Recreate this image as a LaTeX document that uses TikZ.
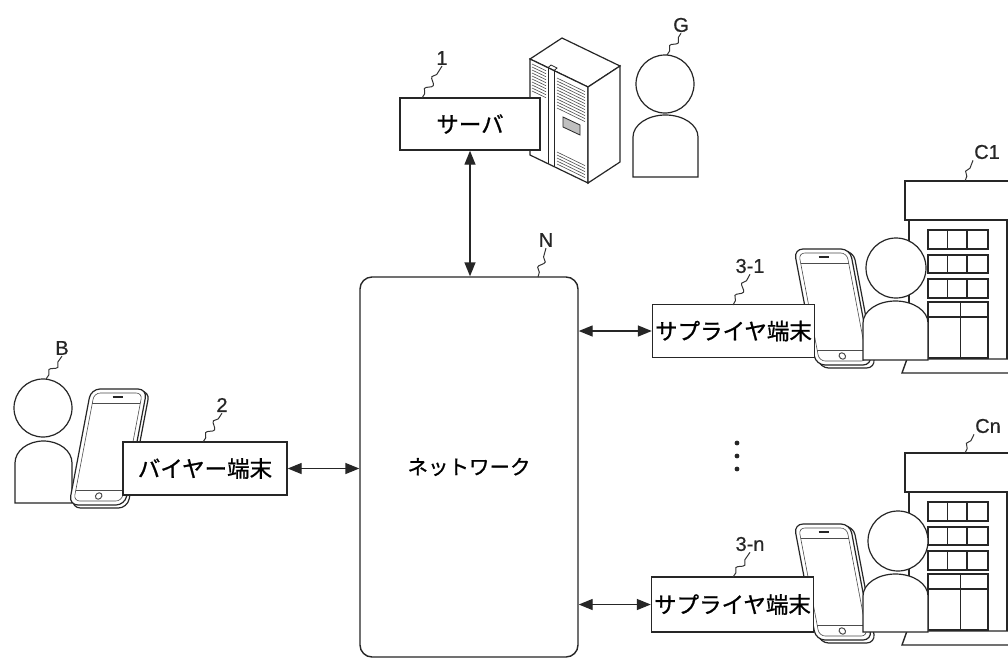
\documentclass[tikz,border=0pt]{standalone}
\usepackage{fontspec}
\newfontfamily\jpfont[FakeBold=0.9]{Noto Sans CJK JP}
\newfontfamily\lblfont[FakeBold=0.6]{Liberation Sans}
\usetikzlibrary{arrows.meta,decorations.pathmorphing}

\tikzset{
  ln/.style={draw=black!85, line width=1.4pt},
  thin ln/.style={draw=black!70, line width=0.6pt},
  termbox/.style={ln, fill=white, rectangle, inner sep=0pt,
    minimum width=162pt, minimum height=53pt,
    font=\jpfont\fontsize{22.5}{26}\selectfont},
  netbox/.style={ln, fill=white, rectangle, rounded corners=12pt, inner sep=0pt,
    minimum width=218pt, minimum height=380pt,
    font=\jpfont\fontsize{20.5}{24}\selectfont},
  reflabel/.style={font=\lblfont\fontsize{20}{24}\selectfont, inner sep=1pt, text=black!85},
  leader/.style={draw=black!80, line width=1pt, decorate,
    decoration={snake, amplitude=3pt, segment length=14pt, pre length=5pt, post length=4pt}},
  link/.style={ln, {Triangle[length=14pt,width=11pt]}-{Triangle[length=14pt,width=11pt]}},
}

% person: body left, body right, body top, body bottom, head x, head y, head radius
\newcommand\figperson[7]{%
  \pgfmathsetmacro\prsMid{(#1+#2)/2}%
  \pgfmathsetmacro\prsW{(#2-#1)/2*0.5523}%
  \pgfmathsetmacro\prsS{#3+22}%
  \pgfmathsetmacro\prsK{#3+22*0.4477}%
  \filldraw[ln, line width=1.2pt, fill=white] (#1,#4) -- (#1,\prsS)
    .. controls (#1,\prsK) and (\prsMid-\prsW,#3) .. (\prsMid,#3)
    .. controls (\prsMid+\prsW,#3) and (#2,\prsK) .. (#2,\prsS)
    -- (#2,#4) -- cycle;
  \filldraw[ln, line width=1.2pt, fill=white] (#5,#6) circle[radius=#7];
}

% smartphone: centre x, centre y, slant
\newcommand\figphone[3]{%
  \begin{scope}[shift={(#1,#2)}, xslant=#3]
    \filldraw[ln, line width=1.2pt, fill=white, rounded corners=9pt] (-25,-56) rectangle (31,61);
    \filldraw[ln, line width=1.2pt, fill=white, rounded corners=9pt] (-28,-58) rectangle (28,58);
    \draw[thin ln, rounded corners=6pt] (-24,-54) rectangle (24,54);
    \draw[thin ln] (-24,-44) -- (24,-44);
    \draw[thin ln] (-24,43) -- (24,43);
    \draw[ln, line width=1.8pt] (-5,-50) -- (5,-50);
    \draw[thin ln, line width=1pt] (0,49) circle[radius=3.2];
  \end{scope}%
}

% office building, shifted down by #1
\newcommand\figoffice[1]{%
  \begin{scope}[shift={(0,#1)}]
    \draw[ln] (909,220) -- (909,359);
    \draw[ln] (1007,220) -- (1007,359);
    \draw[ln] (1012,359) -- (907,359) -- (902,373) -- (1012,373);
    \filldraw[ln, fill=white] (905,181) rectangle (1015,220);
    \foreach \ta/\tb in {230/249, 255/273, 279/298}{
      \draw[ln] (928,\ta) rectangle (988,\tb);
      \draw[ln, line width=1pt] (947,\ta) -- (947,\tb);
      \draw[ln] (967,\ta) -- (967,\tb);
    }
    \draw[ln] (928,302) rectangle (988,358);
    \draw[ln] (928,317) -- (988,317);
    \draw[ln, line width=1pt] (960,302) -- (960,358);
  \end{scope}%
}

\begin{document}
\begin{tikzpicture}[x=1pt, y=-1pt]
  \useasboundingbox (0,0) rectangle (1008,659);
  \clip (0,0) rectangle (1008,659);
  \fill[white] (0,0) rectangle (1008,659);

  % server cabinet
  \filldraw[ln, line width=1.2pt, fill=white] (530,59) -- (562,38) -- (620,66) -- (588,87) -- cycle;
  \filldraw[ln, line width=1.2pt, fill=white] (530,59) -- (588,87) -- (588,183) -- (530,155) -- cycle;
  \filldraw[ln, line width=1.2pt, fill=white] (588,87) -- (620,66) -- (620,162) -- (588,183) -- cycle;
  \foreach \k in {4,7,...,31}{
    \draw[thin ln] (532,{60+\k}) -- (546,{66.7+\k});
  }
  \foreach \k in {6,9,...,36, 80,83,...,92}{
    \draw[thin ln] (557,{72+\k}) -- (585,{85.6+\k});
  }
  \filldraw[ln, fill=black!25, line width=0.8pt] (563,117) -- (580,125) -- (580,135) -- (563,127) -- cycle;
  \draw[ln, line width=0.8pt] (548,67.7) -- (548,163.7);
  \draw[ln, line width=0.8pt] (554,70.6) -- (554,166.6);
  \draw[ln, line width=0.8pt] (548,67.7) -- (551,65) -- (557,68) -- (554,70.6);

  % server box and operator
  \node[termbox, minimum width=140pt, minimum height=52pt] (srv) at (470,124) {サーバ};
  \figperson{633}{698}{115}{177}{665}{84}{29}

  % network
  \node[netbox] (net) at (469,467) {ネットワーク};

  % buyer side
  \figperson{15}{72}{441}{503}{43}{408}{29}
  \figphone{108}{447}{0.19}
  \node[termbox, minimum width=164pt] (buyer) at (205,468.5) {バイヤー端末};

  % supplier sites
  \figoffice{0}
  \figoffice{272}
  \figphone{833}{307}{-0.19}
  \figphone{833}{582}{-0.19}
  \figperson{863}{928}{301}{360}{896}{268}{30}
  \figperson{863}{928}{574}{632}{898}{541}{30}
  \node[termbox] (sup1) at (733.5,331) {サプライヤ端末};
  \node[termbox, minimum height=55pt] (supn) at (732.5,604.5) {サプライヤ端末};

  % ellipsis between suppliers
  \foreach \dy in {443,456,469}{
    \fill[black!85] (737,\dy) circle[radius=2.4];
  }

  % links
  \draw[link] (srv.south) -- (srv.south |- net.north);
  \draw[link] (buyer.east) -- (net.west |- buyer.east);
  \draw[link] (net.east |- sup1.west) -- (sup1.west);
  \draw[link] (net.east |- supn.west) -- (supn.west);

  % reference labels with leaders
  \node[reflabel] (l1) at (442,58) {1};
  \node[reflabel] (lG) at (681,25) {G};
  \node[reflabel] (lN) at (546,240) {N};
  \node[reflabel] (l2) at (222,405) {2};
  \node[reflabel] (lB) at (62,348) {B};
  \node[reflabel] (l31) at (750,266) {3-1};
  \node[reflabel] (l3n) at (750,544) {3-n};
  \node[reflabel] (lC1) at (987,152) {C1};
  \node[reflabel] (lCn) at (988,426) {Cn};

  \coordinate (e1) at (422,98);
  \coordinate (eG) at (667,55);
  \coordinate (eN) at (538,277);
  \coordinate (e2) at (203,442);
  \coordinate (eB) at (46,379);
  \coordinate (e31) at (733,305);
  \coordinate (e3n) at (733,577);
  \coordinate (eC1) at (965,181);
  \coordinate (eCn) at (965,453);

  \draw[leader] (e1) -- (l1.south);
  \draw[leader] (eG) -- (lG.south);
  \draw[leader] (eN) -- (lN.south);
  \draw[leader] (e2) -- (l2.south);
  \draw[leader] (eB) -- (lB.south);
  \draw[leader] (e31) -- (l31.south);
  \draw[leader] (e3n) -- (l3n.south);
  \draw[leader] (eC1) -- (lC1.south west);
  \draw[leader] (eCn) -- (lCn.south west);
\end{tikzpicture}
\end{document}
